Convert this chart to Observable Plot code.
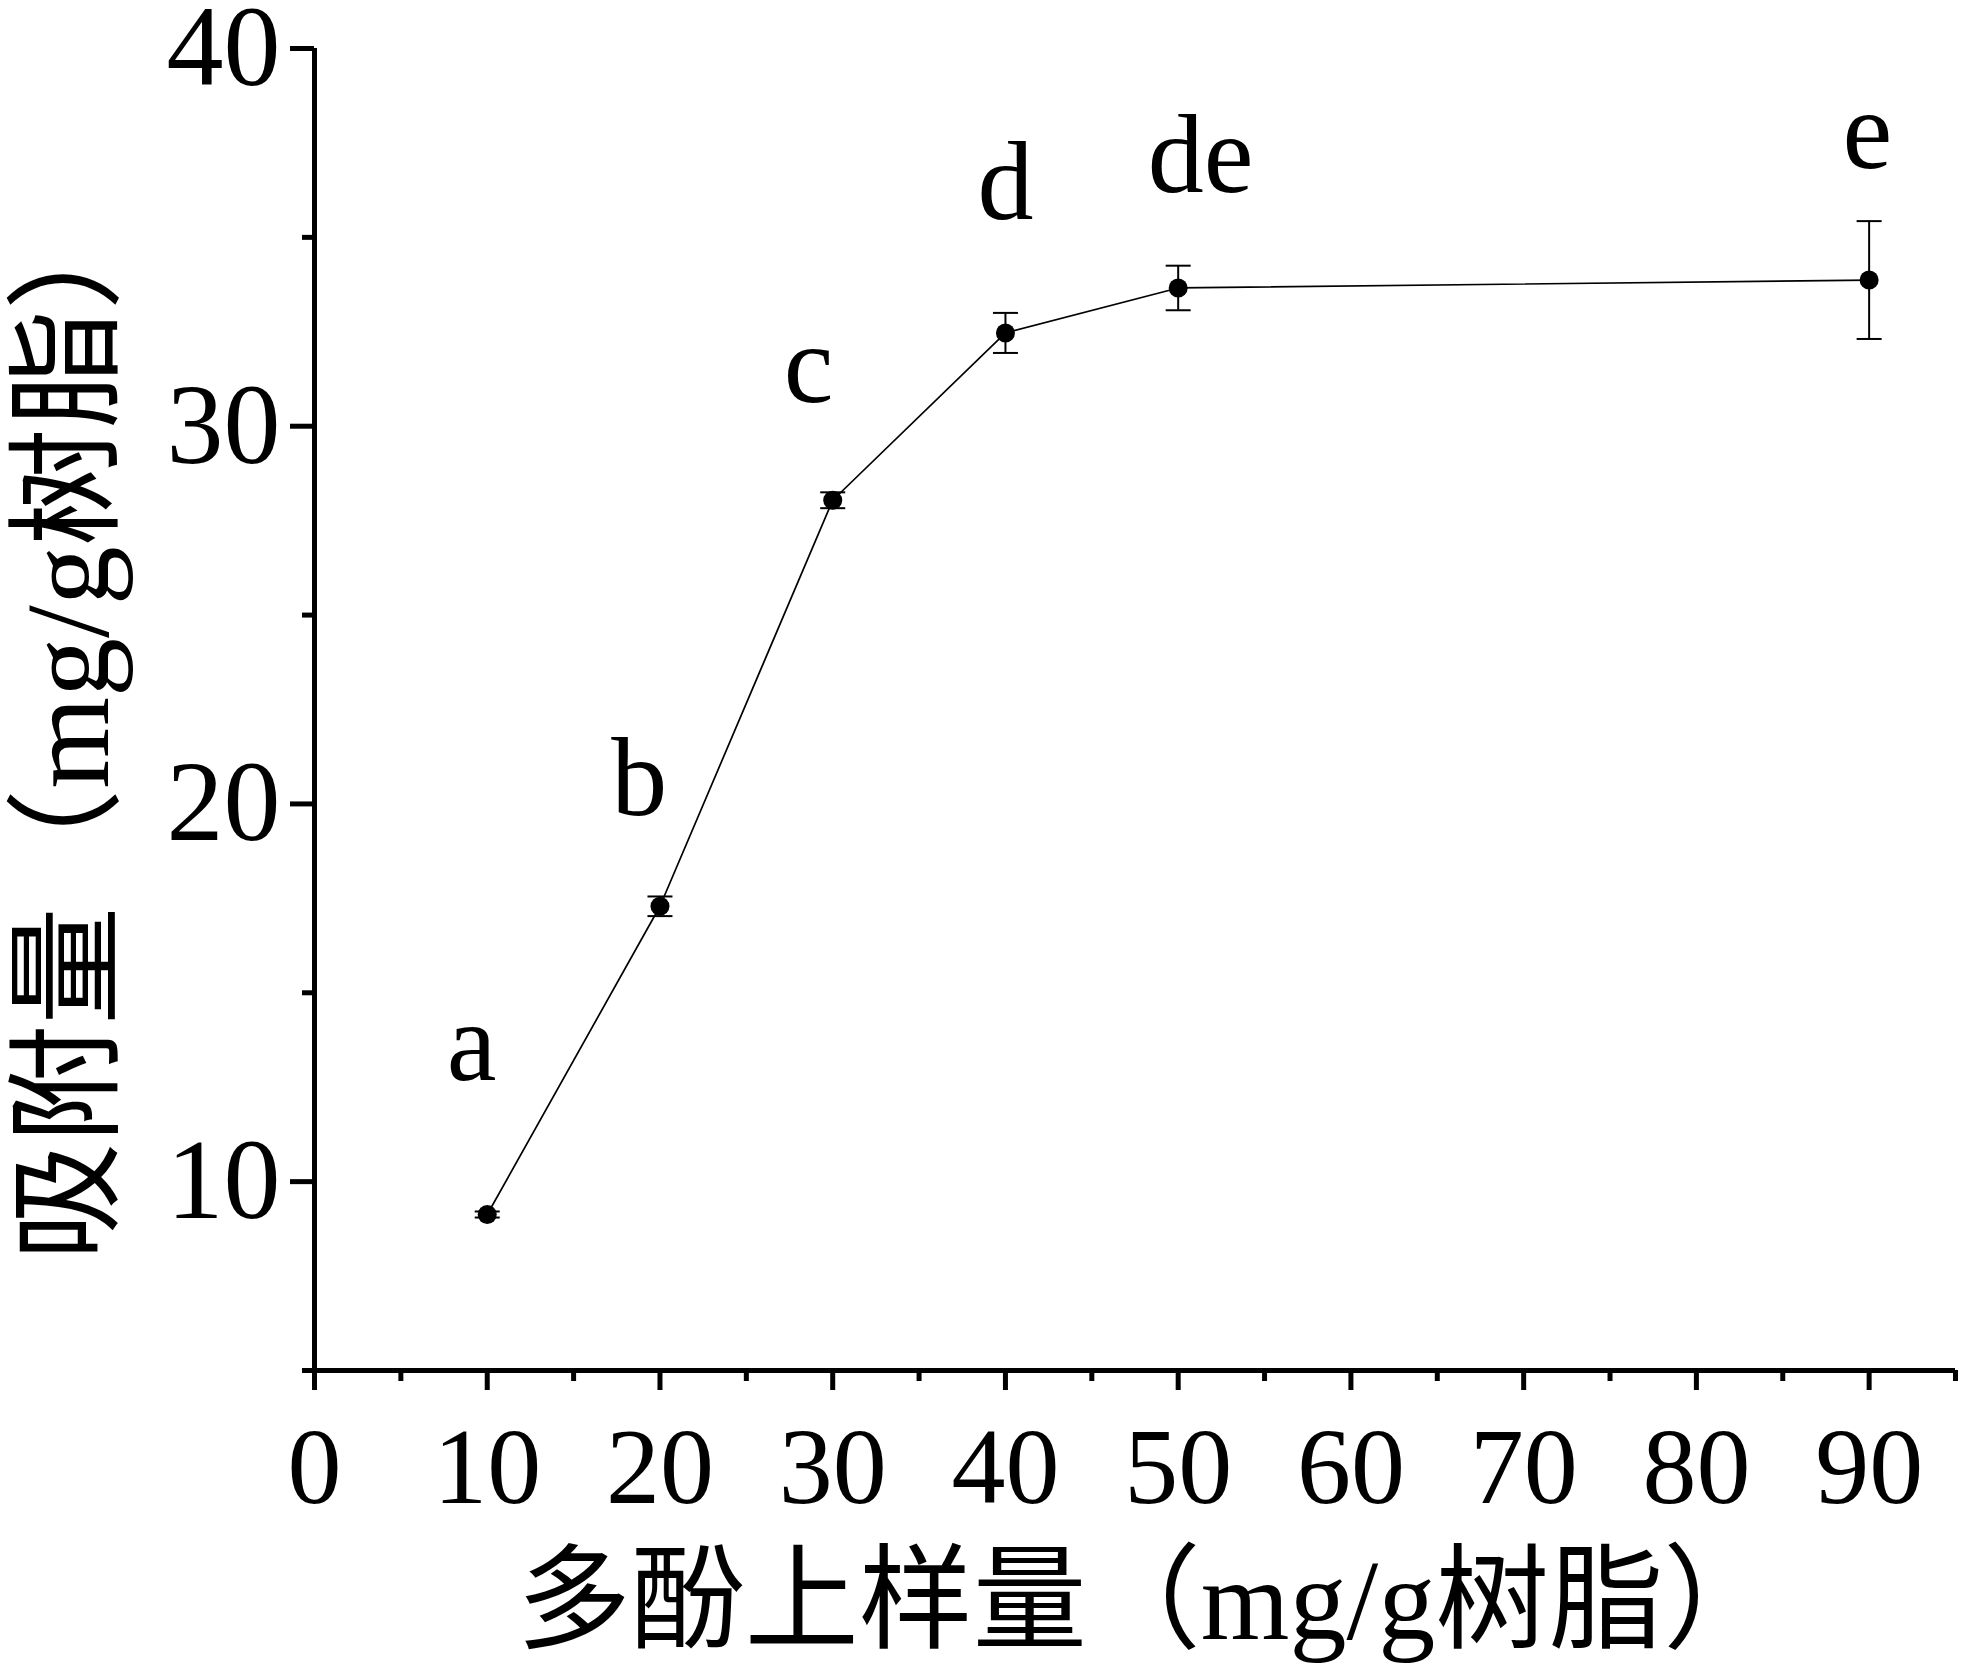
<!DOCTYPE html>
<html>
<head>
<meta charset="utf-8">
<script src="https://cdn.jsdelivr.net/npm/d3@7"></script>
<script src="https://cdn.jsdelivr.net/npm/@observablehq/plot@0.6"></script>
<style>
  html, body { margin: 0; padding: 0; background: #ffffff; }
  #chart { width: 1969px; height: 1673px; }
</style>
</head>
<body>
<div id="chart"></div>
<script>
// ---- data ----
const loading = [10, 20, 30, 40, 50, 90];          // 多酚上样量 (mg/g树脂)
const adsorption = [9.13, 17.29, 28.04, 32.47, 33.66, 33.87]; // 吸附量 (mg/g树脂)
const errors = [0.08, 0.26, 0.21, 0.53, 0.59, 1.56];
const letters = ["a", "b", "c", "d", "de", "e"];
const letterX = [9.1, 18.8, 28.6, 40.0, 51.3, 89.9];
const letterY = [12.70, 19.69, 30.63, 35.48, 36.20, 36.83];

const xMajorTicks = [0, 10, 20, 30, 40, 50, 60, 70, 80, 90];
const xMinorTicks = [5, 15, 25, 35, 45, 55, 65, 75, 85, 95];
const yMajorTicks = [10, 20, 30, 40];
const yMinorTicks = [5, 15, 25, 35];
const xDomain = [0, 95];
const yDomain = [5, 40];

const xTitle = "多酚上样量（mg/g树脂）";
const yTitle = "吸附量（mg/g树脂）";

// ---- build table ----
const points = loading.map((x, i) => ({
  x, y: adsorption[i], lo: adsorption[i] - errors[i], hi: adsorption[i] + errors[i]
}));
const labels = letters.map((t, i) => ({ t, x: letterX[i], y: letterY[i] }));
const caps = points.flatMap(d => [{ x: d.x, y: d.lo }, { x: d.x, y: d.hi }]);

// horizontal line symbol for error-bar caps
const capSymbol = {
  draw(context, size) {
    const w = Math.sqrt(size / Math.PI);
    context.moveTo(-w, 0);
    context.lineTo(w, 0);
  }
};

const FONT = "'Liberation Serif', 'Times New Roman', 'Noto Sans CJK SC', serif";

const chart = Plot.plot({
  width: 1969,
  height: 1673,
  marginLeft: 314,
  marginRight: 14,
  marginTop: 48,
  marginBottom: 303,
  style: { fontFamily: FONT, background: "#ffffff", color: "#000000", overflow: "visible" },
  x: { domain: xDomain, label: null },
  y: { domain: yDomain, label: null },
  marks: [
    // axes lines
    Plot.ruleX([0], { stroke: "#000", strokeWidth: 5 }),
    Plot.ruleY([5], { stroke: "#000", strokeWidth: 5 }),
    // x ticks
    Plot.axisX({ ticks: xMajorTicks, label: null, tickSize: 20, tickPadding: 36, strokeWidth: 5, fontSize: 108, tickFormat: d => String(d), stroke: "#000", fill: "#000" }),
    Plot.axisX({ ticks: xMinorTicks, label: null, tickSize: 11, strokeWidth: 5, text: null, stroke: "#000" }),
    // y ticks
    Plot.axisY({ ticks: yMajorTicks, label: null, tickSize: 24, tickPadding: 10, strokeWidth: 5, fontSize: 114, tickFormat: d => String(d), stroke: "#000", fill: "#000" }),
    Plot.axisY({ ticks: yMinorTicks, label: null, tickSize: 12, strokeWidth: 5, text: null, stroke: "#000" }),
    // data line
    Plot.line(points, { x: "x", y: "y", stroke: "#000", strokeWidth: 1.7 }),
    // error bars
    Plot.ruleX(points, { x: "x", y1: "lo", y2: "hi", stroke: "#000", strokeWidth: 2 }),
    Plot.dot(caps, { x: "x", y: "y", symbol: capSymbol, r: 12.5, stroke: "#000", strokeWidth: 2, fill: "none" }),
    // points
    Plot.dot(points, { x: "x", y: "y", r: 9.5, fill: "#000", stroke: "none" }),
    // significance letters
    Plot.text(labels, { x: "x", y: "y", text: "t", fontSize: 112, fill: "#000", textAnchor: "middle", lineAnchor: "middle", dy: -36 }),
    // axis titles
    Plot.text([xTitle], { frameAnchor: "bottom", text: d => d, fontSize: 114, fill: "#000", textAnchor: "middle", lineAnchor: "middle", dx: 12, dy: 232 }),
    Plot.text([yTitle], { frameAnchor: "left", text: d => d, fontSize: 118, fill: "#000", textAnchor: "middle", lineAnchor: "middle", rotate: -90, dx: -244, dy: 17 })
  ]
});

document.getElementById("chart").appendChild(chart);
</script>
</body>
</html>
